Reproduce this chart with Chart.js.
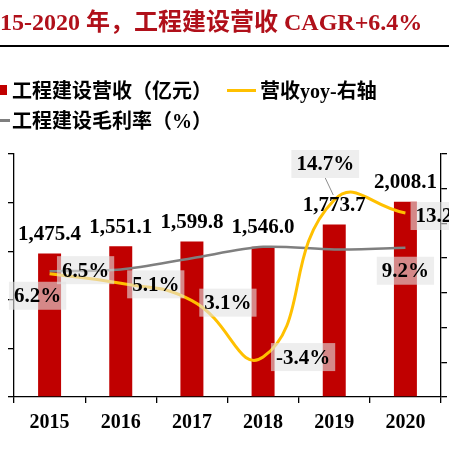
<!DOCTYPE html>
<html><head><meta charset="utf-8">
<script src="https://cdn.jsdelivr.net/npm/chart.js@4.4.1/dist/chart.umd.min.js"></script>
<style>
html,body{margin:0;padding:0;background:#fff;}
#wrap{position:relative;width:449px;height:449px;overflow:hidden;background:#fff;}
#c{position:absolute;left:0;top:0;}
.t{position:absolute;white-space:nowrap;font-family:"Liberation Serif","Noto Sans CJK SC",serif;font-weight:bold;}
#title{left:-24px;top:9px;font-size:24px;line-height:27px;color:#B0101A;}
#rule{position:absolute;left:0;top:45px;width:449px;height:2px;background:#000;}
.lg{font-size:20px;line-height:22px;color:#000;}
.sw{position:absolute;}
</style></head><body>
<div id="wrap">
<canvas id="c" width="449" height="449"></canvas>
<div class="t" id="title">2015-2020 年，工程建设营收 CAGR+6.4%</div>
<div id="rule"></div>
<div class="sw" style="left:-3px;top:85px;width:10px;height:10px;background:#C00000;"></div>
<div class="t lg" style="left:12px;top:80px;">工程建设营收（亿元）</div>
<div class="sw" style="left:227px;top:89px;width:29px;height:3px;background:#FFC000;"></div>
<div class="t lg" style="left:260px;top:80px;">营收yoy-右轴</div>
<div class="sw" style="left:0px;top:119px;width:10px;height:3px;background:#7F7F7F;"></div>
<div class="t lg" style="left:12px;top:110px;">工程建设毛利率（%）</div>
</div>
<script>
const years = ['2015','2016','2017','2018','2019','2020'];
const revenue = [1475.4, 1551.1, 1599.8, 1546.0, 1773.7, 2008.1];
const revenueYoy = [6.2, 5.1, 3.1, -3.4, 14.7, 13.2];
const grossMargin = [6.5, 6.7, 8.0, 9.3, 9.0, 9.2];
const leftTicks = [0, 500, 1000, 1500, 2000, 2500];
const rightTicks = [-8, -4, 0, 4, 8, 12, 16, 20];

const fmt = v => v.toLocaleString('en-US', {minimumFractionDigits:1, maximumFractionDigits:1});

const yoyOffsets = [[-12,22],[35,1],[36,2],[40,0],[-9,-36],[39,3]];
const gmLabelled = {0:[36,-1], 5:[0,23]};

const labelPlugin = {
  id: 'labels',
  afterDatasetsDraw(chart) {
    const ctx = chart.ctx;
    ctx.save();
    ctx.font = 'bold 21px "Liberation Serif", serif';
    ctx.textAlign = 'center';
    ctx.textBaseline = 'middle';
    const barMeta = chart.getDatasetMeta(2);
    ctx.fillStyle = '#000';
    barMeta.data.forEach((el, i) => ctx.fillText(fmt(revenue[i]), el.x, el.y - 19));
    const boxed = (text, x, y) => {
      const w = ctx.measureText(text).width;
      ctx.fillStyle = 'rgba(226,226,226,0.6)';
      ctx.fillRect(x - w/2 - 5, y - 14, w + 10, 28);
      ctx.fillStyle = '#000';
      ctx.fillText(text, x, y + 1);
    };
    const yoyMeta = chart.getDatasetMeta(0);
    const p4 = yoyMeta.data[4];
    const o4 = yoyOffsets[4];
    ctx.strokeStyle = '#8c8c8c'; ctx.lineWidth = 1;
    ctx.beginPath(); ctx.moveTo(p4.x + o4[0], p4.y + o4[1] + 14); ctx.lineTo(p4.x - 1, p4.y - 5); ctx.stroke();
    yoyMeta.data.forEach((el, i) => boxed(revenueYoy[i].toFixed(1) + '%', el.x + yoyOffsets[i][0], el.y + yoyOffsets[i][1]));
    const gmMeta = chart.getDatasetMeta(1);
    Object.keys(gmLabelled).forEach(k => {
      const el = gmMeta.data[k], o = gmLabelled[k];
      boxed(grossMargin[k].toFixed(1) + '%', el.x + o[0], el.y + o[1]);
    });
    ctx.restore();
  }
};

const axisGrid = {drawOnChartArea:false, drawTicks:true, tickLength:6, color:'#000', lineWidth:1.3};

new Chart(document.getElementById('c'), {
  type: 'bar',
  data: {
    labels: years,
    datasets: [
      {type:'line', label:'营收yoy-右轴', data:revenueYoy, yAxisID:'y1', borderColor:'#FFC000', borderWidth:3, tension:0.5, pointRadius:0, order:1},
      {type:'line', label:'工程建设毛利率（%）', data:grossMargin, yAxisID:'y1', borderColor:'#7F7F7F', borderWidth:2.5, tension:0.3, pointRadius:0, order:2},
      {type:'bar', label:'工程建设营收（亿元）', data:revenue, yAxisID:'y', backgroundColor:'#C00000', barPercentage:0.323, categoryPercentage:1, order:3}
    ]
  },
  options: {
    responsive:false, animation:false,
    layout:{padding:{top:154, left:0, right:0, bottom:0}},
    plugins:{legend:{display:false}, tooltip:{enabled:false}},
    scales:{
      x:{offset:true, grid:Object.assign({offset:true}, axisGrid), border:{color:'#000', width:1.3},
         ticks:{font:{family:'"Liberation Serif"', weight:'bold', size:20}, color:'#000', padding:8, maxRotation:0},
         afterFit(s){ s.height = 52; }},
      y:{position:'left', min:leftTicks[0], max:leftTicks[leftTicks.length-1],
         afterBuildTicks(s){ s.ticks = leftTicks.map(v => ({value:v})); },
         ticks:{display:false}, grid:axisGrid, border:{color:'#000', width:1.3},
         afterFit(s){ s.width = 14; }},
      y1:{position:'right', min:rightTicks[0], max:rightTicks[rightTicks.length-1],
         afterBuildTicks(s){ s.ticks = rightTicks.map(v => ({value:v})); },
         ticks:{display:false}, grid:axisGrid, border:{color:'#000', width:1.3},
         afterFit(s){ s.width = 8; }}
    }
  },
  plugins:[labelPlugin]
});
</script>
</body></html>
